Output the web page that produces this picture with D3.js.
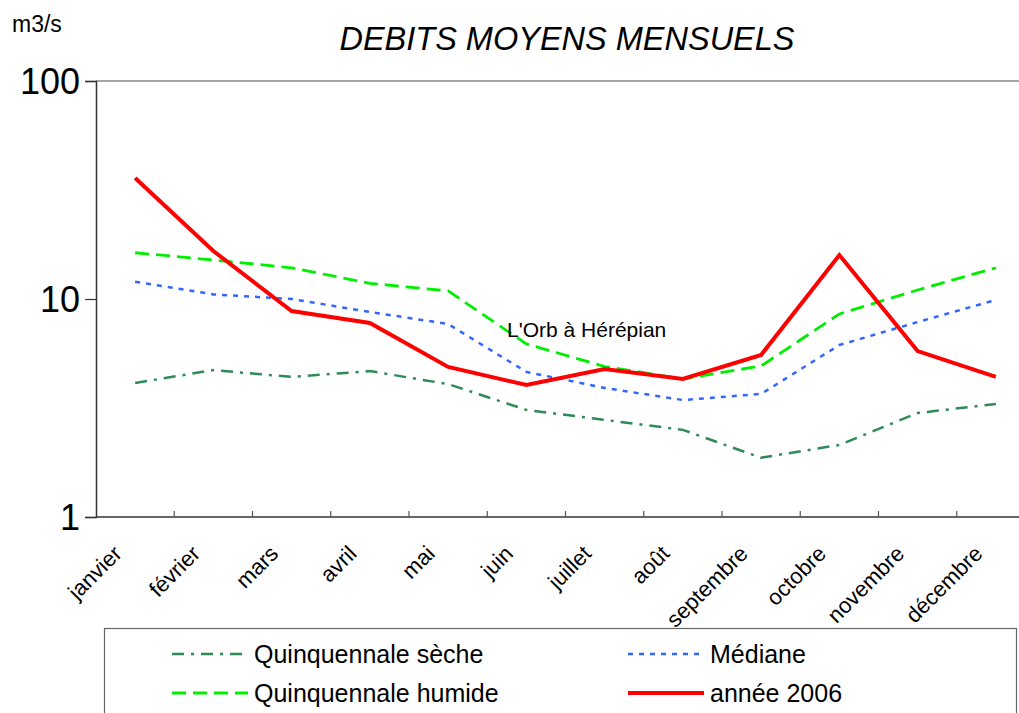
<!DOCTYPE html>
<html>
<head>
<meta charset="utf-8">
<script src="https://cdn.jsdelivr.net/npm/d3@7"></script>
<style>
  html, body { margin: 0; padding: 0; background: #fff; }
  svg { display: block; font-family: "Liberation Sans", Arial, sans-serif; }
</style>
</head>
<body>
<svg id="chart" width="1019" height="713"></svg>
<script>
// Monthly mean flows (m3/s), L'Orb à Hérépian
const months = ["janvier", "février", "mars", "avril", "mai", "juin", "juillet", "août", "septembre", "octobre", "novembre", "décembre"];
const seche   = [4.12, 4.72, 4.39, 4.67, 4.07, 3.10, 2.79, 2.51, 1.87, 2.14, 3.00, 3.30];
const mediane = [12.0, 10.5, 10.0, 8.72, 7.68, 4.63, 3.91, 3.44, 3.67, 6.15, 7.84, 9.9];
const humide  = [16.3, 15.1, 13.9, 11.8, 10.9, 6.22, 4.9, 4.3, 4.93, 8.54, 11.0, 13.9];
const annee2006 = [35.9, 16.6, 8.81, 7.76, 4.88, 4.03, 4.77, 4.30, 5.54, 15.9, 5.77, 4.39];
const yTicks = [1, 10, 100];

const svg = d3.select("#chart");

const plotLeft = 96, plotTop = 81, plotBottom = 517;
const bandW = 78.25;
const plotRight = plotLeft + bandW * months.length;

const x = d3.scaleBand().domain(months).range([plotLeft, plotRight]);
const y = d3.scaleLog().domain([1, 100]).range([plotBottom, plotTop]);
const cx = m => x(m) + x.bandwidth() / 2;

// Top border at 100
svg.append("line")
  .attr("x1", plotLeft).attr("x2", plotRight)
  .attr("y1", y(100)).attr("y2", y(100))
  .attr("stroke", "#888").attr("stroke-width", 1.5);

// Y axis
const yAxis = d3.axisLeft(y).tickValues(yTicks).tickFormat(d3.format("d")).tickSize(11).tickPadding(5);
const gy = svg.append("g").attr("transform", `translate(${plotLeft},0)`).call(yAxis);
gy.select(".domain").attr("stroke", "#333").attr("stroke-width", 1.5);
gy.selectAll(".tick line").attr("stroke", "#333").attr("stroke-width", 1.2);
gy.selectAll(".tick text")
  .attr("font-family", "Liberation Sans, Arial, sans-serif")
  .attr("font-size", 36).attr("fill", "#000")
  .attr("dy", "0.36em");

// X axis: ticks at month boundaries
const gx = svg.append("g").attr("transform", `translate(0,${plotBottom})`);
gx.append("line").attr("x1", plotLeft).attr("x2", plotRight).attr("y1", 0).attr("y2", 0)
  .attr("stroke", "#333").attr("stroke-width", 1.5);
gx.selectAll("line.tk").data(months.slice(1)).join("line")
  .attr("class", "tk")
  .attr("x1", d => x(d)).attr("x2", d => x(d))
  .attr("y1", 0).attr("y2", -6)
  .attr("stroke", "#555").attr("stroke-width", 1.2);
gx.selectAll("text").data(months).join("text")
  .attr("transform", d => `translate(${cx(d) - 12},${38}) rotate(-45)`)
  .attr("text-anchor", "end")
  .attr("font-size", 22)
  .attr("fill", "#000")
  .text(d => d);

// Series
const series = [
  { name: "Quinquennale sèche", values: seche, color: "#2e8b57", width: 2.5, dash: "12,7,3,7" },
  { name: "Médiane", values: mediane, color: "#3366ff", width: 2.5, dash: "5,6" },
  { name: "Quinquennale humide", values: humide, color: "#00ee00", width: 2.8, dash: "14,7" },
  { name: "année 2006", values: annee2006, color: "#ff0000", width: 4, dash: null }
];

const line = d3.line().x((d, i) => cx(months[i])).y(d => y(d));

series.forEach(s => {
  svg.append("path")
    .datum(s.values)
    .attr("d", line)
    .attr("fill", "none")
    .attr("stroke", s.color)
    .attr("stroke-width", s.width)
    .attr("stroke-dasharray", s.dash)
    .attr("stroke-linejoin", "miter");
});

// Titles
svg.append("text").attr("x", 12).attr("y", 32).attr("font-size", 23).attr("fill", "#000").text("m3/s");
svg.append("text").attr("x", 567).attr("y", 50).attr("text-anchor", "middle")
  .attr("font-size", 32.5).attr("font-style", "italic").attr("fill", "#000")
  .text("DEBITS MOYENS MENSUELS");
svg.append("text").attr("x", 507).attr("y", 337).attr("font-size", 21).attr("fill", "#000")
  .text("L'Orb à Hérépian");

// Legend
const legend = svg.append("g");
legend.append("rect").attr("x", 104.5).attr("y", 628.5).attr("width", 912).attr("height", 100)
  .attr("fill", "#fff").attr("stroke", "#666").attr("stroke-width", 1.2);
const legPos = [
  { lx: 172, ty: 654 }, { lx: 628, ty: 654 },
  { lx: 172, ty: 693 }, { lx: 628, ty: 693 }
];
series.forEach((s, i) => {
  const p = legPos[i];
  legend.append("line")
    .attr("x1", p.lx).attr("x2", p.lx + 76)
    .attr("y1", p.ty).attr("y2", p.ty)
    .attr("stroke", s.color).attr("stroke-width", s.width)
    .attr("stroke-dasharray", s.dash);
  legend.append("text")
    .attr("x", p.lx + 82).attr("y", p.ty + 9)
    .attr("font-size", 25).attr("fill", "#000")
    .text(s.name);
});
</script>
</body>
</html>
